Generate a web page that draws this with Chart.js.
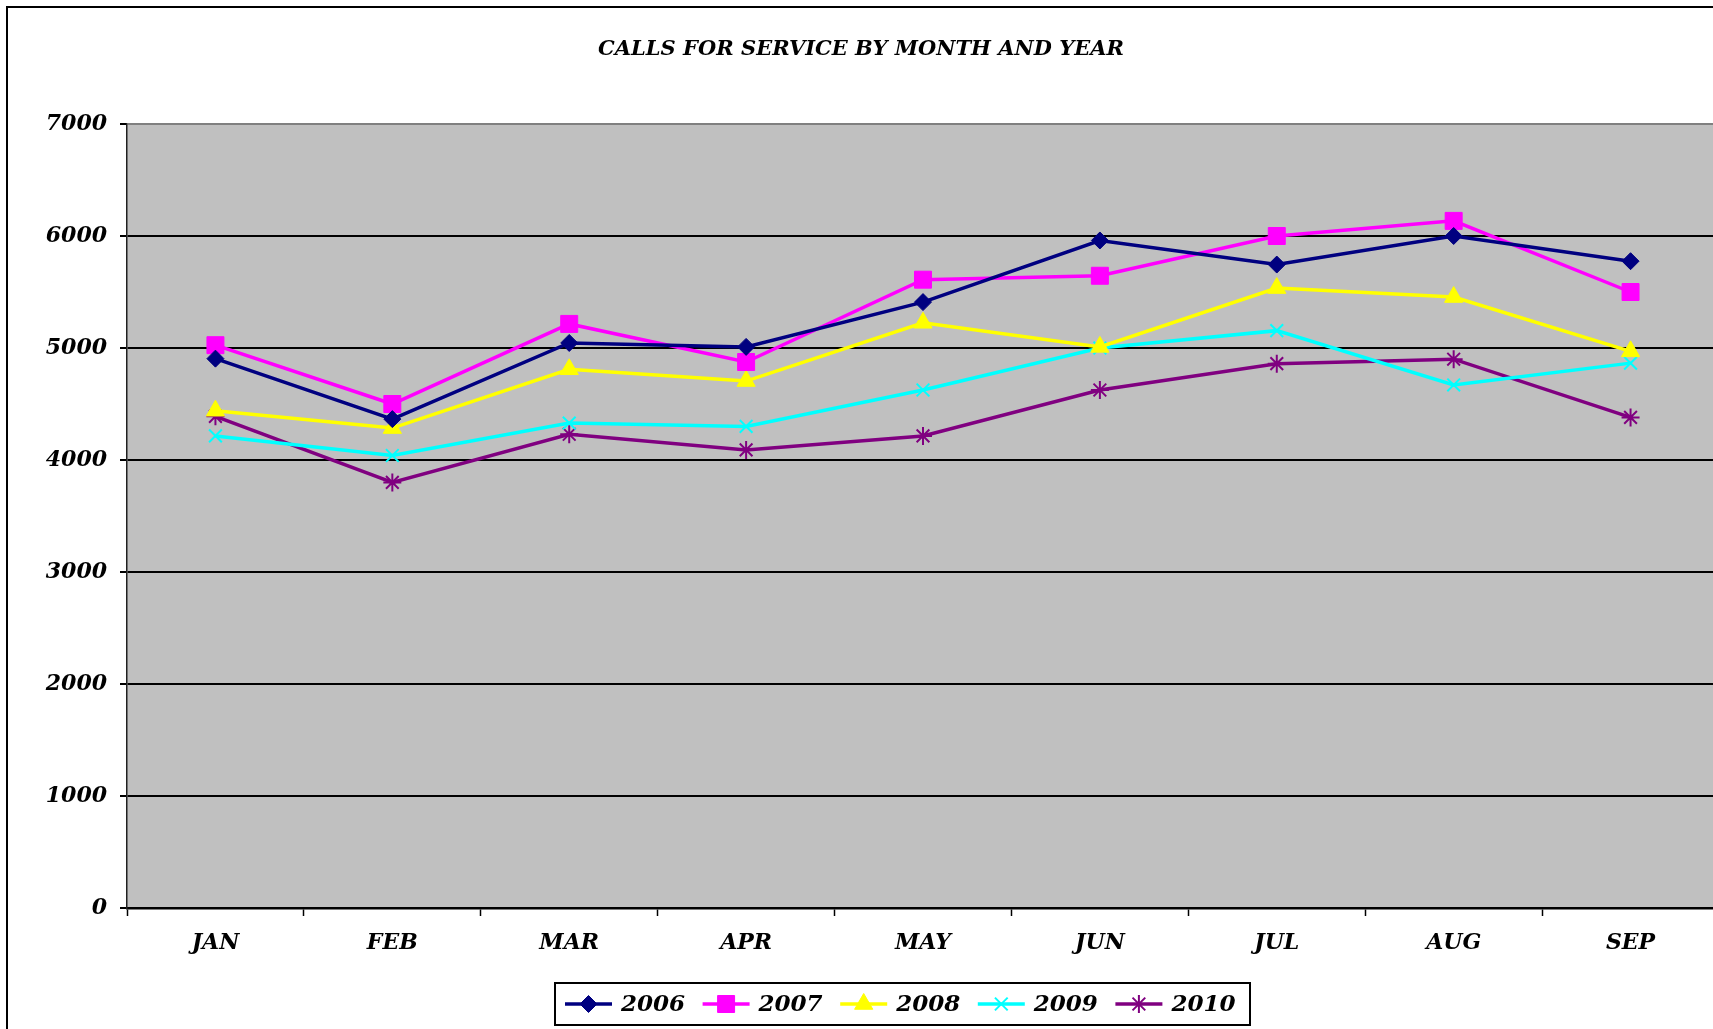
<!DOCTYPE html>
<html>
<head>
<meta charset="utf-8">
<script src="https://cdn.jsdelivr.net/npm/chart.js@4.4.1/dist/chart.umd.min.js"></script>
<style>
    html, body { margin: 0; padding: 0; background: #fff; overflow: hidden; }
    #frame {
        position: absolute; left: 6px; top: 6px;
        border-left: 2px solid #000; border-top: 2px solid #000;
        width: 1760px; height: 1021px;
    }
    canvas { display: block; }
</style>
</head>
<body>
<div id="frame"><canvas id="myChart" width="1760" height="1021"></canvas></div>
<script>
// values
const title = 'CALLS FOR SERVICE BY MONTH AND YEAR';
const months = ['JAN', 'FEB', 'MAR', 'APR', 'MAY', 'JUN', 'JUL', 'AUG', 'SEP'];
const years = ['2006', '2007', '2008', '2009', '2010'];
const calls2006 = [4905, 4365, 5045, 5010, 5410, 5960, 5745, 6000, 5775];
const calls2007 = [5025, 4500, 5215, 4875, 5610, 5645, 6000, 6135, 5500];
const calls2008 = [4440, 4285, 4810, 4705, 5225, 5010, 5535, 5455, 4970];
const calls2009 = [4215, 4040, 4330, 4300, 4625, 5000, 5155, 4670, 4865];
const calls2010 = [4390, 3800, 4230, 4090, 4215, 4625, 4860, 4900, 4380];
const yTicks = [0, 1000, 2000, 3000, 4000, 5000, 6000, 7000];

const colors = ['#000080', '#ff00ff', '#ffff00', '#00ffff', '#800080'];
const markers = ['rectRot', 'rect', 'triangle', 'crossRot', 'star'];
const radii = [8.5, 12, 10.5, 9, 9];
const series = [calls2006, calls2007, calls2008, calls2009, calls2010];

const serif = '"DejaVu Serif", "Liberation Serif", serif';

const datasets = series.map((vals, i) => ({
    label: years[i],
    data: vals,
    borderColor: colors[i],
    backgroundColor: colors[i],
    borderWidth: 3.5,
    tension: 0,
    pointStyle: markers[i],
    pointRadius: radii[i],
    pointHoverRadius: radii[i],
    pointBorderWidth: i >= 3 ? 2 : 1,
    pointBackgroundColor: colors[i],
    pointBorderColor: colors[i]
}));

// grey plot area, title and the boxed legend
const decor = {
    id: 'decor',
    beforeDraw(chart) {
        const { ctx, chartArea: a } = chart;
        ctx.save();
        ctx.fillStyle = '#c0c0c0';
        ctx.fillRect(a.left, a.top, a.right - a.left, a.bottom - a.top);
        ctx.restore();
    },
    afterDraw(chart) {
        const ctx = chart.ctx;
        ctx.save();
        ctx.fillStyle = '#000';
        ctx.font = 'italic bold 21px ' + serif;
        ctx.textAlign = 'center';
        ctx.textBaseline = 'middle';
        ctx.fillText(title, 853, 42);

        // legend
        const boxL = 547, boxR = 1242, boxT = 975, boxB = 1017;
        const cy = (boxT + boxB) / 2;
        ctx.fillStyle = '#fff';
        ctx.fillRect(boxL, boxT, boxR - boxL, boxB - boxT);
        ctx.strokeStyle = '#000';
        ctx.lineWidth = 2;
        ctx.strokeRect(boxL, boxT, boxR - boxL, boxB - boxT);

        ctx.font = 'italic bold 23px ' + serif;
        ctx.textAlign = 'left';
        chart.data.datasets.forEach((ds, i) => {
            const lx = 557 + i * 137.6;
            ctx.strokeStyle = ds.borderColor;
            ctx.lineWidth = 3.5;
            ctx.beginPath();
            ctx.moveTo(lx, cy);
            ctx.lineTo(lx + 47, cy);
            ctx.stroke();
            ctx.fillStyle = ds.pointBackgroundColor;
            ctx.strokeStyle = ds.pointBorderColor;
            ctx.lineWidth = ds.pointBorderWidth;
            Chart.helpers.drawPoint(ctx, {
                pointStyle: ds.pointStyle,
                radius: ds.pointRadius,
                borderWidth: ds.pointBorderWidth,
                rotation: 0
            }, lx + 23.5, cy);
            ctx.fillStyle = '#000';
            ctx.fillText(ds.label, lx + 56, cy + 1);
        });
        ctx.restore();
    }
};

const ctx = document.getElementById('myChart').getContext('2d');
const myChart = new Chart(ctx, {
    type: 'line',
    data: {
        labels: months,
        datasets: datasets
    },
    options: {
        responsive: false,
        animation: false,
        layout: {
            padding: { left: 0, top: 116, right: 49, bottom: 71 }
        },
        plugins: {
            legend: { display: false },
            title: { display: false },
            tooltip: { enabled: false }
        },
        scales: {
            x: {
                offset: true,
                afterFit(scale) { scale.height = 50; },
                grid: {
                    offset: true,
                    drawOnChartArea: false,
                    drawTicks: true,
                    tickLength: 8,
                    tickColor: '#000',
                    tickWidth: 1.5
                },
                border: { color: '#000', width: 2.5 },
                ticks: {
                    color: '#000',
                    padding: 14,
                    maxRotation: 0,
                    font: { family: serif, size: 22, weight: 'bold', style: 'italic' }
                }
            },
            y: {
                min: 0,
                max: 7000,
                afterFit(scale) { scale.width = 119; },
                afterBuildTicks(scale) {
                    scale.ticks = yTicks.map(v => ({ value: v }));
                },
                grid: {
                    color: c => (c.tick && c.tick.value === 7000 ? '#808080' : '#000'),
                    lineWidth: 2,
                    tickLength: 7,
                    tickColor: '#000'
                },
                border: { color: '#202020', width: 1.5 },
                ticks: {
                    color: '#000',
                    padding: 13,
                    callback: v => String(v),
                    font: { family: serif, size: 22, weight: 'bold', style: 'italic' }
                }
            }
        }
    },
    plugins: [decor]
});
</script>
</body>
</html>
